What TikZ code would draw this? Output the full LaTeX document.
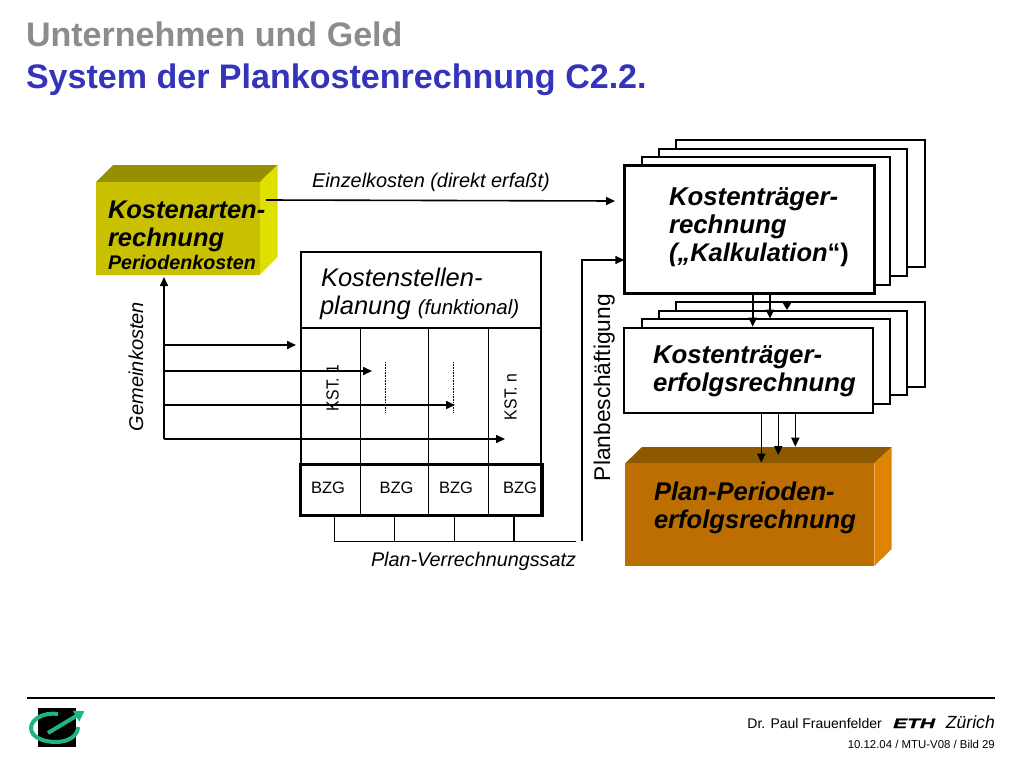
\documentclass[tikz,border=0pt]{standalone}
\usepackage{fontspec}
\usepackage{graphicx}
\setmainfont{Liberation Sans}
\newfontfamily\ethf[FakeBold=1.2,FakeStretch=1.55]{Liberation Sans Bold Italic}
\usetikzlibrary{arrows.meta,calc}
\definecolor{titlegray}{HTML}{8C8C8C}
\definecolor{titleblue}{HTML}{3333BB}
\definecolor{kfront}{HTML}{C8C000}
\definecolor{ktop}{HTML}{969000}
\definecolor{kside}{HTML}{E0E000}
\definecolor{pfront}{HTML}{BC6E00}
\definecolor{ptop}{HTML}{8C5800}
\definecolor{pside}{HTML}{DE8400}
\definecolor{logogreen}{HTML}{20B484}
\newcommand{\fsz}[1]{\fontsize{#1pt}{#1pt}\selectfont}
\tikzset{
  x=1pt,y=-1pt,
  txt/.style={inner sep=0,outer sep=0,anchor=base west,text=black},
  panel/.style={draw=black,fill=white,line width=2pt,anchor=north west,inner sep=0,outer sep=0},
  flow/.style={draw=black,line width=1.6pt,-{Triangle[length=9pt,width=8pt]}},
  rule/.style={draw=black,line width=1.5pt},
}
\begin{document}
\begin{tikzpicture}
\useasboundingbox (0,0) rectangle (1024,768);
% title
\node[txt,text=titlegray,font=\fsz{34.05}\bfseries] (t1) at (26,46) {Unternehmen und Geld};
\node[txt,text=titleblue,font=\fsz{34.05}\bfseries] (t2) at (26,88) {System der Plankostenrechnung C2.2.};
% Kostenarten block
\fill[ktop] (96,182) -- (113,165) -- (277.5,165) -- (260,182) -- cycle;
\fill[kside] (260,182) -- (277.5,165) -- (277.5,257) -- (260,274.5) -- cycle;
\node[fill=kfront,anchor=north west,inner sep=0,outer sep=0,minimum width=164pt,minimum height=92.5pt] (ka) at (96,182) {};
\node[txt,font=\fsz{25.5}\bfseries\itshape] (ka1) at (108,218) {Kostenarten-};
\node[txt,font=\fsz{25.5}\bfseries\itshape] (ka2) at (108,246) {rechnung};
\node[txt,font=\fsz{19.7}\bfseries\itshape] (ka3) at (108,269) {Periodenkosten};
% Kostentraeger stack
\foreach \nm/\xa/\ya/\bw/\bh in {ta/676/140/248.7/127.3,tb/658.7/148.7/248.6/127.3,tc/641.7/157.3/248.6/127.7}
  \node[panel,minimum width=\bw pt,minimum height=\bh pt] (\nm) at (\xa,\ya) {};
\node[panel,line width=3pt,minimum width=250.5pt,minimum height=128pt] (tr) at (624.3,165.7) {};
\node[txt,font=\fsz{25.8}\bfseries\itshape] (tr1) at (669,205) {Kostenträger-};
\node[txt,font=\fsz{25.8}\bfseries\itshape] (tr2) at (669,233) {rechnung};
\node[txt,font=\fsz{25.5}\bfseries\itshape] (tr3) at (669,261.5) {(„Kalkulation{\upshape“)}};
% Erfolgsrechnung stack
\foreach \nm/\xa/\ya/\bw/\bh in {ea/676/302.3/248.7/84.4,eb/658.7/311/248.6/84,ec/641.7/319.3/248.6/84.7}
  \node[panel,minimum width=\bw pt,minimum height=\bh pt] (\nm) at (\xa,\ya) {};
\node[panel,minimum width=249pt,minimum height=84.7pt] (er) at (624.3,328) {};
\node[txt,font=\fsz{25.8}\bfseries\itshape] (er1) at (653,363) {Kostenträger-};
\node[txt,font=\fsz{25.7}\bfseries\itshape] (er2) at (653,391) {erfolgsrechnung};
% Plan-Perioden block
\fill[ptop] (625.3,463.3) -- (642,447) -- (891.7,447) -- (874.3,463.3) -- cycle;
\fill[pside] (874.3,463.3) -- (891.7,447) -- (891.7,549) -- (874.3,566) -- cycle;
\node[fill=pfront,anchor=north west,inner sep=0,outer sep=0,minimum width=249pt,minimum height=102.7pt] (pp) at (625.3,463.3) {};
\node[txt,font=\fsz{25.6}\bfseries\itshape] (pp1) at (654,500) {Plan-Perioden-};
\node[txt,font=\fsz{25.6}\bfseries\itshape] (pp2) at (654,528) {erfolgsrechnung};
% Kostenstellen box
\node[panel,minimum width=240.5pt,minimum height=264pt] (ks) at (300.5,251.7) {};
\coordinate (divl) at (300.5,328);
\coordinate (divr) at (541,328);
\draw[rule] (divl) -- (divr);
\foreach \x/\nm in {360.3/a,428.3/b,488.3/c}{
  \coordinate (v\nm t) at (\x,328);
  \coordinate (v\nm b) at (\x,515);
  \draw[rule] (v\nm t) -- (v\nm b);
}
\node[draw=black,line width=3pt,anchor=north west,inner sep=0,outer sep=0,minimum width=241.8pt,minimum height=51.4pt] (bzg) at (300.5,464.3) {};
\node[txt,font=\fsz{25.5}\itshape] (ks1) at (321,286.5) {Kostenstellen-};
\node[txt,font=\fsz{25.5}\itshape] (ks2) at (320,314) {planung {\fsz{20.5}(funktional)}};
\node[txt,rotate=90,font=\fsz{17.5}] (kst1) at (338.5,411) {\scalebox{0.9}[1]{KST. 1}};
\node[txt,rotate=90,font=\fsz{17.5}] (kstn) at (516.5,420) {\scalebox{0.9}[1]{KST. n}};
\foreach \nm/\x in {b1/311,b2/379.5,b3/439,b4/503}
  \node[txt,font=\fsz{16.5}] (\nm) at (\x,493) {BZG};
% dotted lines
\coordinate (d1t) at (385.8,362); \coordinate (d1b) at (385.8,412);
\coordinate (d2t) at (453.8,362); \coordinate (d2b) at (453.8,412);
\draw[line width=1.3pt,dash pattern=on 1pt off .6pt] (d1t) -- (d1b);
\draw[line width=1.3pt,dash pattern=on 1pt off .6pt] (d2t) -- (d2b);
% Gemeinkosten arrows
\coordinate (g0) at (164,439);
\coordinate (gu) at (164,277);
\coordinate (g1) at (164,345); \coordinate (g1e) at (296,345);
\coordinate (g2) at (164,371); \coordinate (g2e) at (372,371);
\coordinate (g3) at (164,405); \coordinate (g3e) at (455,405);
\coordinate (g4e) at (505,439);
\draw[flow] (g0) -- (gu);
\draw[flow] (g1) -- (g1e);
\draw[flow] (g2) -- (g2e);
\draw[flow] (g3) -- (g3e);
\draw[flow] (g0) -- (g4e);
\node[txt,rotate=90,font=\fsz{20}\itshape] (gk) at (143,431) {Gemeinkosten};
% Einzelkosten
\coordinate (ez) at (266,200); \coordinate (eze) at (615,201);
\draw[flow] (ez) -- (eze);
\node[txt,font=\fsz{19.9}\itshape] (ezl) at (312,187) {Einzelkosten (direkt erfaßt)};
% Plan-Verrechnungssatz
\coordinate (s1) at (334.7,515); \coordinate (s1b) at (334.7,541.3);
\coordinate (s2) at (394.7,515); \coordinate (s2b) at (394.7,541.3);
\coordinate (s3) at (454.3,515); \coordinate (s3b) at (454.3,541.3);
\coordinate (s4) at (514,515); \coordinate (s4b) at (514,541.3);
\coordinate (se) at (576,541.3);
\draw[rule] (s1) -- (s1b) -- (se);
\draw[rule] (s2) -- (s2b);
\draw[rule] (s3) -- (s3b);
\draw[rule] (s4) -- (s4b);
\node[txt,font=\fsz{19.8}\itshape] (pv) at (371,566) {Plan-Verrechnungssatz};
% Planbeschaeftigung
\coordinate (pb0) at (582,541.3); \coordinate (pb1) at (582,260);
\draw[flow] (pb0) -- (pb1) -- (tr.west |- pb1);
\node[txt,rotate=90,font=\fsz{22.7}] (pbl) at (610,481) {Planbeschäftigung};
% arrows between stacks
\coordinate (a1) at (752.7,295); \coordinate (a1e) at (752.7,326.7);
\coordinate (a2) at (770,295); \coordinate (a2e) at (770,318.7);
\coordinate (a3) at (787,302); \coordinate (a3e) at (787,310);
\draw[flow] (a1) -- (a1e);
\draw[flow] (a2) -- (a2e);
\draw[line width=1.6pt,draw=black,-{Triangle[length=7pt,width=8pt]}] (a3) -- (a3e);
\coordinate (c1) at (761.3,413); \coordinate (c1e) at (761.3,462.7);
\coordinate (c2) at (778.3,413); \coordinate (c2e) at (778.3,455);
\coordinate (c3) at (795.3,413); \coordinate (c3e) at (795.3,446.7);
\draw[flow] (c1) -- (c1e);
\draw[flow] (c2) -- (c2e);
\draw[flow] (c3) -- (c3e);
% footer
\coordinate (fl) at (27,698); \coordinate (fr) at (995,698);
\draw[rule] (fl) -- (fr);
\node[fill=black,anchor=north west,inner sep=0,outer sep=0,minimum width=38pt,minimum height=39.5pt] (lg) at (38,707.8) {};
\draw[draw=logogreen,line width=4pt] (58,714) .. controls (42,712) and (31,720) .. (31,728) .. controls (31,738) and (45,742) .. (56,742) .. controls (68,742) and (78,736) .. (78,727);
\coordinate (la) at (48,733); \coordinate (lb) at (84.5,711);
\draw[draw=logogreen,line width=4pt,-{Triangle[length=10pt,width=12pt]}] (la) -- (lb);
\node[anchor=base east,inner sep=0,font=\fsz{14},text=black] (au) at (882,728) {Dr. Paul Frauenfelder};
\node[anchor=base west,inner sep=0,font=\fsz{13.5}\ethf,text=black] (eth) at (893,728) {ETH};
\node[anchor=base east,inner sep=0,font=\fsz{17.6}\itshape,text=black] (zu) at (995,728) {Zürich};
\node[anchor=base east,inner sep=0,font=\fsz{11.4},text=black] (dt) at (995,748) {10.12.04 / MTU-V08 / Bild 29};
\end{tikzpicture}
\end{document}
